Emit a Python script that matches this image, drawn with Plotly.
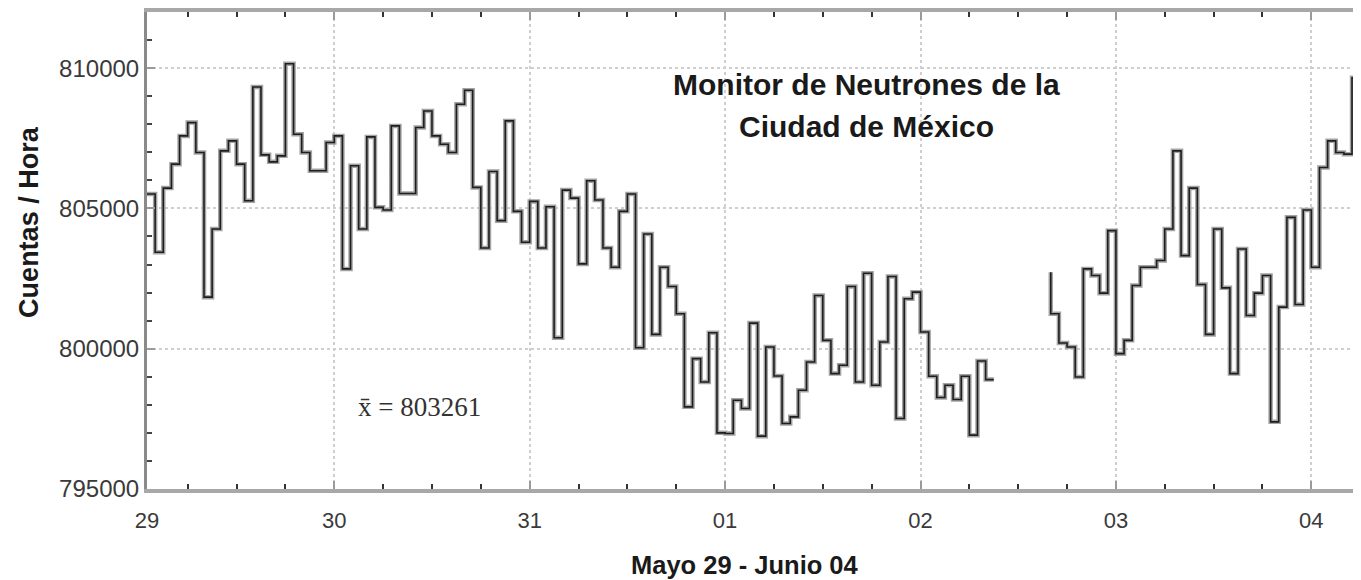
import plotly.graph_objects as go

# ---------------- data ----------------
# Hourly neutron monitor counts, each value labelled by the hour (since 29 May 00:00)
# at which its one-hour interval ends.
seg1_first_hour = 1
seg1_counts = [
    805500, 805512, 803437, 805724, 806578, 807585, 808058, 806992, 801837, 804267,
    807051, 807407, 806578, 805274, 809327, 806909, 806660, 806874, 810156, 807644,
    806992, 806340, 806340, 807348, 807585, 802845, 806518, 804267, 807549, 805037,
    804942, 807940, 805534, 805534, 807881, 808473, 807585, 807289, 806992, 808710,
    809209, 805748, 803591, 806317, 804563, 808118, 804895, 803792, 805250, 803591,
    805061, 800392, 805653, 805368, 803022, 805985, 805298, 803591, 802904, 804895,
    805512, 800036, 804089, 800510, 802904, 802217, 801245, 797927, 799645, 798815,
    800570, 797002, 796979, 798164, 797868, 800913, 796884, 800060, 799029, 797334,
    797571, 798519, 799527, 801897, 800297, 799112, 799408, 802217, 798815, 802691,
    798697, 800238, 802572, 797512, 801778, 802015, 800593, 799017, 798259, 798697,
    798188, 799017, 796920, 799562, 798899,
]
seg2_first_hour = 112
seg2_counts = [
    802725, 801245, 800202, 800060, 798993, 802845, 802608, 801980, 804207, 799823,
    800297, 802252, 802904, 802904, 803141, 804267, 807051, 803319, 805724, 802288,
    800510, 804267, 802169, 799112, 803556, 801186, 801980, 802608, 797394, 801482,
    804682, 801577, 804942, 802904, 806459, 807407, 806992, 806933, 809659,
]
mean_count = 803261

day_tick_hours = [1, 24, 48, 72, 96, 120, 144]
day_tick_labels = ["29", "30", "31", "01", "02", "03", "04"]
count_ticks = [795000, 800000, 805000, 810000]
count_tick_labels = ["795000", "800000", "805000", "810000"]

x_range = [1, 150.1]
y_range = [795000, 812000]

title_line1 = "Monitor de Neutrones de la"
title_line2 = "Ciudad de México"
x_title = "Mayo 29 - Junio 04"
y_title = "Cuentas / Hora"

# ---------------- figure ----------------
seg1_hours = list(range(seg1_first_hour, seg1_first_hour + len(seg1_counts)))
seg2_hours = list(range(seg2_first_hour, seg2_first_hour + len(seg2_counts)))

fig = go.Figure()
for hours, counts in [(seg1_hours, seg1_counts), (seg2_hours, seg2_counts)]:
    fig.add_trace(go.Scatter(x=hours, y=counts, mode="lines",
                             line=dict(shape="vh", color="#a3a3a3", width=4.5),
                             hoverinfo="skip"))
    fig.add_trace(go.Scatter(x=hours, y=counts, mode="lines",
                             line=dict(shape="vh", color="#1e1e1e", width=1.6)))

sans = "Liberation Sans, Arial, sans-serif"

# the page body adds an 8 px offset; size and margins compensate for it
fig.update_layout(
    width=1353, height=572,
    margin=dict(l=139, r=0, t=4, b=91),
    plot_bgcolor="white", paper_bgcolor="white",
    showlegend=False,
    font=dict(family=sans, color="#222"),
)

fig.update_xaxes(
    range=x_range,
    tickmode="array", tickvals=day_tick_hours, ticktext=day_tick_labels,
    ticks="inside", ticklen=8, tickwidth=2, tickcolor="#9a9a9a",
    minor=dict(tick0=0, dtick=6, ticks="inside", ticklen=5, tickwidth=2,
               tickcolor="#333", showgrid=False),
    showgrid=True, gridcolor="#cfcfcf", gridwidth=2, griddash="dot",
    showline=True, linecolor="#a8a8a8", linewidth=4, mirror="allticks",
    zeroline=False,
    tickfont=dict(family=sans, size=22, color="#3a3a3a"),
    ticklabelstandoff=9,
)

fig.update_yaxes(
    range=y_range,
    tickmode="array", tickvals=count_ticks, ticktext=count_tick_labels,
    ticks="inside", ticklen=8, tickwidth=2, tickcolor="#9a9a9a",
    minor=dict(tick0=0, dtick=1000, ticks="inside", ticklen=5, tickwidth=2,
               tickcolor="#444", showgrid=False),
    showgrid=True, gridcolor="#cfcfcf", gridwidth=2, griddash="dot",
    showline=True, linecolor="#8a8a8a", linewidth=3, mirror=False,
    zeroline=False,
    tickfont=dict(family=sans, size=24, color="#3a3a3a"),
    ticklabelstandoff=0,
)

fig.add_annotation(text="<b>" + title_line1 + "</b>", xref="paper", yref="paper",
                   x=0.5926, y=0.848, xanchor="center", yanchor="middle",
                   showarrow=False, font=dict(family=sans, size=30, color="#1a1a1a"))
fig.add_annotation(text="<b>" + title_line2 + "</b>", xref="paper", yref="paper",
                   x=0.5926, y=0.759, xanchor="center", yanchor="middle",
                   showarrow=False, font=dict(family=sans, size=30, color="#1a1a1a"))
fig.add_annotation(text="<b>" + x_title + "</b>", xref="paper", yref="paper",
                   x=0.4925, y=0, yshift=-76, xanchor="center", yanchor="middle",
                   showarrow=False, font=dict(family=sans, size=25.5, color="#1a1a1a"))
fig.add_annotation(text="<b>" + y_title + "</b>", xref="paper", yref="paper",
                   x=0, xshift=-118, y=0.56, xanchor="center", yanchor="middle",
                   textangle=-90,
                   showarrow=False, font=dict(family=sans, size=27, color="#1a1a1a"))
fig.add_annotation(text="x\u0304 = " + str(mean_count), xref="paper", yref="paper",
                   x=0.172, y=0.172, xanchor="left", yanchor="middle",
                   showarrow=False,
                   font=dict(family="Liberation Serif, Times New Roman, serif",
                             size=27, color="#333"))

fig.write_html("out.html")
